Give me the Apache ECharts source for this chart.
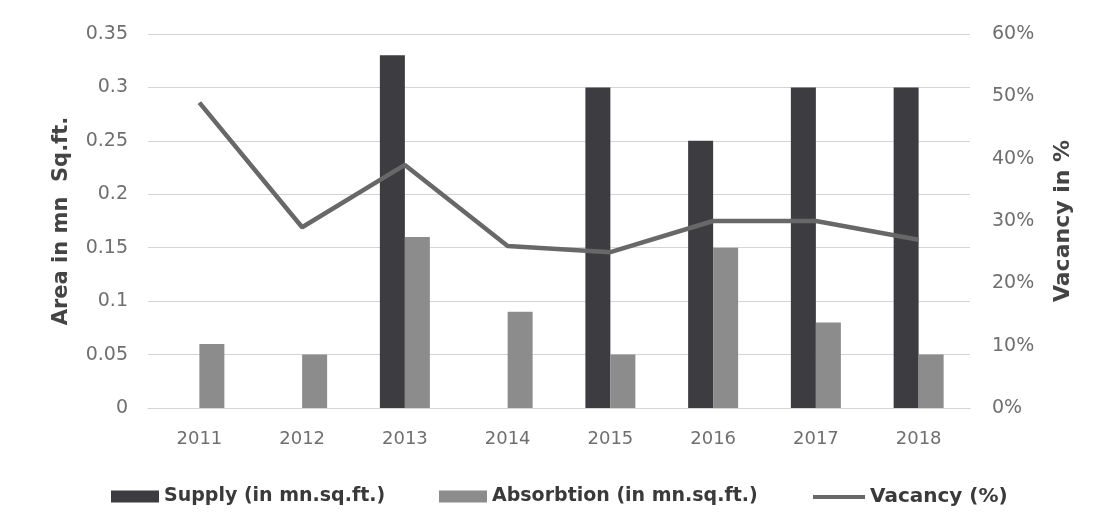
<!DOCTYPE html>
<html>
<head>
<meta charset="utf-8">
<script src="https://cdn.jsdelivr.net/npm/echarts@6/dist/echarts.min.js"></script>
<style>
  html, body { margin: 0; padding: 0; background: #ffffff; }
  #chart { width: 1095px; height: 523px; }
</style>
</head>
<body>
<div id="chart"></div>
<script>
// Office market: new supply, absorption and vacancy by year
const years = ['2011', '2012', '2013', '2014', '2015', '2016', '2017', '2018'];
const supply = [null, null, 0.33, null, 0.30, 0.25, 0.30, 0.30];
const absorption = [0.06, 0.05, 0.16, 0.09, 0.05, 0.15, 0.08, 0.05];
const vacancy = [49, 29, 39, 26, 25, 30, 30, 27];

const FONT = 'DejaVu Sans';
const chart = echarts.init(document.getElementById('chart'));

const legendBase = {
  top: 482,
  itemWidth: 48,
  itemHeight: 12,
  itemGap: 6,
  textStyle: { fontFamily: FONT, fontSize: 19, fontWeight: 'bold', color: '#3a3a3a' },
  selectedMode: false
};

chart.setOption({
  animation: false,
  backgroundColor: '#ffffff',
  grid: { left: 148, right: 125, top: 34, bottom: 115 },
  legend: [
    Object.assign({}, legendBase, { left: 106, data: [{ name: 'Supply (in mn.sq.ft.)', icon: 'rect' }] }),
    Object.assign({}, legendBase, { left: 434, data: [{ name: 'Absorbtion (in mn.sq.ft.)', icon: 'rect' }] }),
    Object.assign({}, legendBase, {
      left: 808, itemWidth: 52, itemHeight: 4,
      textStyle: Object.assign({}, legendBase.textStyle, { fontSize: 20 }),
      data: [{ name: 'Vacancy (%)', icon: 'rect' }]
    })
  ],
  xAxis: {
    type: 'category',
    data: years,
    axisLine: { show: true, lineStyle: { color: '#d4d4d4', width: 1 } },
    axisTick: { show: false },
    axisLabel: { fontFamily: FONT, fontSize: 18, color: '#6f6f6f', margin: 22 }
  },
  yAxis: [
    {
      type: 'value',
      min: 0, max: 0.35, interval: 0.05,
      name: 'Area in mn  Sq.ft.',
      nameLocation: 'middle',
      nameGap: 76,
      nameTextStyle: { fontFamily: FONT, fontSize: 21, fontWeight: 'bold', color: '#444444' },
      axisLine: { show: false },
      axisTick: { show: false },
      axisLabel: {
        fontFamily: FONT, fontSize: 19, color: '#6f6f6f', margin: 20,
        formatter: v => (Math.round(v * 100) / 100).toString()
      },
      splitLine: { lineStyle: { color: '#d4d4d4', width: 1 } }
    },
    {
      type: 'value',
      min: 0, max: 60, interval: 10,
      name: 'Vacancy in %',
      nameLocation: 'middle',
      nameGap: 82,
      nameTextStyle: { fontFamily: FONT, fontSize: 22, fontWeight: 'bold', color: '#444444' },
      axisLine: { show: false },
      axisTick: { show: false },
      axisLabel: { fontFamily: FONT, fontSize: 19, color: '#6f6f6f', margin: 22, formatter: '{value}%' },
      splitLine: { show: false }
    }
  ],
  series: [
    {
      name: 'Supply (in mn.sq.ft.)',
      type: 'bar',
      data: supply,
      barWidth: 25,
      barGap: '0%',
      itemStyle: { color: '#3d3d41' }
    },
    {
      name: 'Absorbtion (in mn.sq.ft.)',
      type: 'bar',
      data: absorption,
      barWidth: 25,
      barGap: '0%',
      itemStyle: { color: '#8c8c8c' }
    },
    {
      name: 'Vacancy (%)',
      type: 'line',
      yAxisIndex: 1,
      data: vacancy,
      symbol: 'none',
      lineStyle: { color: '#686868', width: 4.5 },
      itemStyle: { color: '#686868' }
    }
  ]
});
</script>
</body>
</html>
